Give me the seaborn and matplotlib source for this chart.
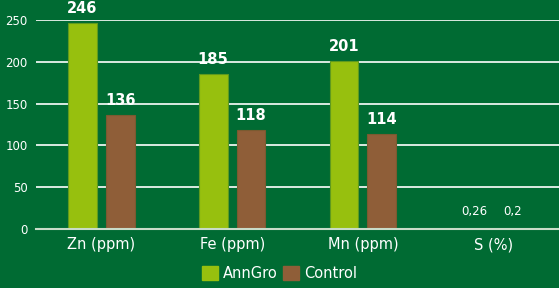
import pandas as pd
import seaborn as sns
import matplotlib.pyplot as plt

categories = ['Zn (ppm)', 'Fe (ppm)', 'Mn (ppm)', 'S (%)']
anngro = [246, 185, 201, 0.26]
control = [136, 118, 114, 0.2]
anngro_labels = ['246', '185', '201', '0,26']
control_labels = ['136', '118', '114', '0,2']

bg = '#006b33'
green = '#97c00e'
brown = '#8f5e38'

df = pd.DataFrame({
    'cat': categories * 2,
    'val': anngro + control,
    'grp': ['AnnGro'] * 4 + ['Control'] * 4,
})

plt.rcParams['font.family'] = ['DejaVu Sans']
fig = plt.figure(figsize=(5.59, 2.88), dpi=100, facecolor=bg)
ax = fig.add_axes([36 / 559, 1 - 229 / 288, 1 - 36 / 559, 209 / 288])
ax.set_facecolor(bg)

sns.barplot(data=df, x='cat', y='val', hue='grp', palette=[green, brown],
            width=0.58, gap=0.24, ax=ax, legend=False, saturation=1)
for p in ax.patches:
    p.set_edgecolor('#5f9a1e' if p.get_facecolor()[1] > 0.5 else '#7a5a30')
    p.set_linewidth(0.8)

ax.set_xlim(-0.5, 3.5)
ax.set_ylim(0, 250)
ax.set_yticks([0, 50, 100, 150, 200, 250])
ax.yaxis.grid(True, color='white', linewidth=1.2)
ax.set_axisbelow(True)
for s in ['top', 'right', 'left']:
    ax.spines[s].set_visible(False)
ax.spines['bottom'].set_color('#c8dcc8')
ax.spines['bottom'].set_linewidth(1.5)
ax.tick_params(axis='y', length=0, colors='white', labelsize=8.5, pad=6)
ax.tick_params(axis='x', length=0, colors='white', labelsize=10.5, pad=6)
ax.set_xlabel('')
ax.set_ylabel('')

off = 0.145
for i in range(4):
    big = anngro[i] > 1
    fs = 10.5 if big else 8.5
    fw = 'bold' if big else 'normal'
    dy = 5 if big else 8
    ax.annotate(anngro_labels[i], (i - off, anngro[i]), xytext=(0, dy), textcoords='offset points',
                ha='center', va='bottom', color='white', fontsize=fs, fontweight=fw, annotation_clip=False)
    ax.annotate(control_labels[i], (i + off, control[i]), xytext=(0, dy), textcoords='offset points',
                ha='center', va='bottom', color='white', fontsize=fs, fontweight=fw, annotation_clip=False)

handles = [plt.Rectangle((0, 0), 1, 1, color=green), plt.Rectangle((0, 0), 1, 1, color=brown)]
fig.legend(handles, ['AnnGro', 'Control'], loc='center', bbox_to_anchor=(0.5, 1 - 273 / 288),
           ncol=2, frameon=False, labelcolor='white', fontsize=10.5, handlelength=1.1,
           handleheight=1.1, handletextpad=0.3, columnspacing=0.4)

fig.savefig('out.png', dpi=100, facecolor=bg)
